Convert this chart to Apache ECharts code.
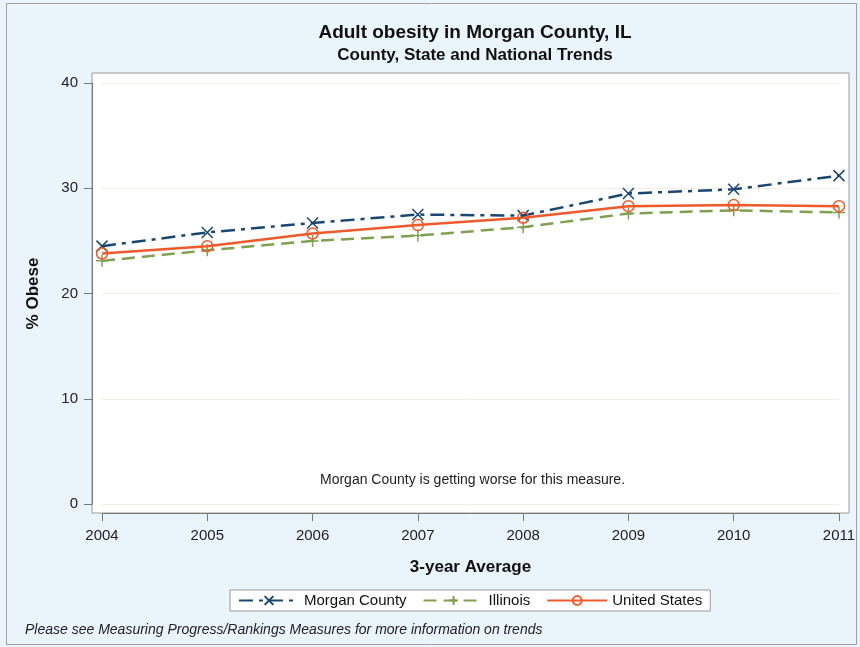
<!DOCTYPE html>
<html>
<head>
<meta charset="utf-8">
<script src="https://cdn.jsdelivr.net/npm/echarts@6/dist/echarts.min.js"></script>
<style>
  html, body { margin: 0; padding: 0; background: #fff; }
  #main { width: 860px; height: 647px; }
</style>
</head>
<body>
<div id="main"></div>
<script>
// data
var years = [2004, 2005, 2006, 2007, 2008, 2009, 2010, 2011];
var morgan = [24.5, 25.8, 26.7, 27.5, 27.4, 29.5, 29.9, 31.2];
var illinois = [23.1, 24.1, 25.0, 25.5, 26.3, 27.6, 27.9, 27.7];
var unitedStates = [23.8, 24.5, 25.7, 26.5, 27.2, 28.3, 28.4, 28.3];

function pairs(vals) {
    return years.map(function (y, i) { return [y, vals[i]]; });
}

var NAVY = '#1a476f';
var GREEN = '#7fa04f';
var ORANGE = '#ef5a2a';
var FONT = 'Liberation Sans, Arial, sans-serif';

var chart = echarts.init(document.getElementById('main'), null, { renderer: 'canvas' });

var option = {
    animation: false,
    backgroundColor: '#eaf4fb',
    textStyle: { fontFamily: FONT },
    title: [{
        text: 'Adult obesity in Morgan County, IL',
        left: 470, top: 18, textAlign: 'center',
        textStyle: { fontSize: 19, fontWeight: 'bold', color: '#111', fontFamily: FONT }
    }, {
        text: 'County, State and National Trends',
        left: 470, top: 42, textAlign: 'center',
        textStyle: { fontSize: 17, fontWeight: 'bold', color: '#111', fontFamily: FONT }
    }],
    grid: [
        // data grid
        { left: 102, right: 21, top: 83, bottom: 143, show: false },
        // frame of the plot region
        { left: 92, right: 11, top: 73, bottom: 134, show: true, backgroundColor: '#fff', borderColor: '#9a9a9a', borderWidth: 1, z: 0 }
    ],
    xAxis: [{
        type: 'value', gridIndex: 0, min: 2004, max: 2011, interval: 1, offset: 9,
        name: '3-year Average', nameLocation: 'middle', nameGap: 46,
        nameTextStyle: { fontSize: 17, fontWeight: 'bold', color: '#111' },
        axisLine: { show: true, onZero: false, lineStyle: { color: '#777' } },
        axisTick: { show: true, length: 8, lineStyle: { color: '#777' } },
        axisLabel: { margin: 15, fontSize: 15, color: '#222', formatter: function (v) { return String(v); } },
        splitLine: { show: false }
    }, {
        type: 'value', gridIndex: 1, show: false
    }],
    yAxis: [{
        type: 'value', gridIndex: 0, min: 0, max: 40, interval: 10, offset: 10,
        name: '% Obese', nameLocation: 'middle', nameGap: 50, nameRotate: 90,
        nameTextStyle: { fontSize: 17, fontWeight: 'bold', color: '#111' },
        axisLine: { show: true, lineStyle: { color: '#777' } },
        axisTick: { show: true, length: 8, lineStyle: { color: '#777' } },
        axisLabel: { margin: 14, fontSize: 15, color: '#222' },
        splitLine: { show: true, lineStyle: { color: '#efeee0', width: 1 } }
    }, {
        type: 'value', gridIndex: 1, show: false
    }],
    legend: {
        left: 230, top: 590,
        padding: [3, 8, 3, 8],
        backgroundColor: '#fff', borderColor: '#999', borderWidth: 1, borderRadius: 0,
        itemWidth: 60, itemHeight: 11, itemGap: 16,
        textStyle: { fontSize: 15, color: '#111' },
        data: ['Morgan County', 'Illinois', 'United States']
    },
    series: [{
        name: 'Morgan County', type: 'line', xAxisIndex: 0, yAxisIndex: 0,
        data: pairs(morgan),
        symbol: 'path://M0,0L10,10M10,0L0,10', symbolSize: 11,
        itemStyle: { color: 'rgba(0,0,0,0)', borderColor: NAVY, borderWidth: 1.5 },
        lineStyle: { color: NAVY, width: 2.5, type: [14, 6, 4, 6] },
        z: 4
    }, {
        name: 'Illinois', type: 'line', xAxisIndex: 0, yAxisIndex: 0,
        data: pairs(illinois),
        symbol: 'path://M5,0L5,10M0,5L10,5', symbolSize: 12,
        itemStyle: { color: 'rgba(0,0,0,0)', borderColor: GREEN, borderWidth: 1.5 },
        lineStyle: { color: GREEN, width: 2.5, type: [13, 7] },
        z: 3
    }, {
        name: 'United States', type: 'line', xAxisIndex: 0, yAxisIndex: 0,
        data: pairs(unitedStates),
        symbol: 'circle', symbolSize: 11,
        itemStyle: { color: 'rgba(0,0,0,0)', borderColor: ORANGE, borderWidth: 1.5 },
        lineStyle: { color: ORANGE, width: 2.5 },
        z: 5
    }],
    graphic: [{
        type: 'rect', z: -10, silent: true,
        shape: { x: 6.5, y: 3.5, width: 850, height: 641 },
        style: { fill: 'none', stroke: '#a0a0a0', lineWidth: 1 }
    }, {
        type: 'text', left: 320, top: 473, z: 20,
        style: {
            text: 'Morgan County is getting worse for this measure.',
            font: '14px ' + FONT, fill: '#222'
        }
    }, {
        type: 'text', left: 25, top: 623, z: 20,
        style: {
            text: 'Please see Measuring Progress/Rankings Measures for more information on trends',
            font: 'italic 14px ' + FONT, fill: '#222'
        }
    }]
};

chart.setOption(option);
</script>
</body>
</html>
